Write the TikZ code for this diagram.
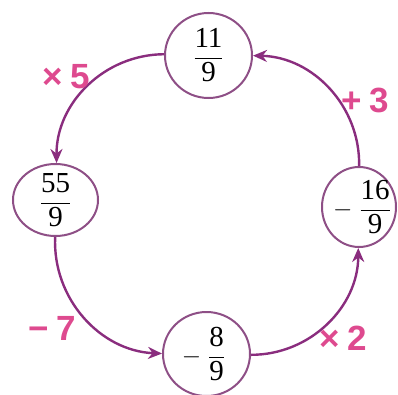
\documentclass[tikz,border=0pt]{standalone}
\usepackage{amsmath}
\usepackage{fontspec}
\setmainfont{Liberation Serif}
\newfontfamily\opfont{Liberation Sans}
\usetikzlibrary{arrows.meta,shapes.geometric}
\definecolor{ringPurple}{HTML}{8E4F86}
\definecolor{arcPurple}{HTML}{8A2D7E}
\definecolor{opPink}{HTML}{DE4A8F}
\newcommand{\fr}[2]{$\dfrac{\text{#1}}{\text{#2}}$}
\newcommand{\negfr}[2]{$-\;\dfrac{\text{#1}}{\text{#2}}$}

\begin{document}
\begin{tikzpicture}[x=1pt, y=1pt,
  numring/.style={ellipse, draw=ringPurple, line width=2pt, inner sep=0pt},
  numtext/.style={font=\fontsize{29}{29}\selectfont},
  steparrow/.style={draw=arcPurple, line width=2.4pt, -{Stealth[length=14pt,width=12pt]}},
  oplabel/.style={font=\opfont\bfseries\fontsize{35}{35}\selectfont, color=opPink}]
  \useasboundingbox (0,0) rectangle (398,394);

  % Number rings
  \node[numring, minimum width=87pt, minimum height=85pt, label={[numtext]center:\fr{11}{9}}] (top) at (208.5,338.5) {};
  \node[numring, minimum width=85pt, minimum height=72pt, label={[numtext]center:\fr{55}{9}}] (left) at (55.5,194) {};
  \node[numring, minimum width=74pt, minimum height=80pt, label={[numtext, xshift=3pt]center:\negfr{16}{9}}] (right) at (359,187) {};
  \node[numring, minimum width=87pt, minimum height=84pt, label={[numtext, xshift=-3pt]center:\negfr{8}{9}}] (bottom) at (206.5,40) {};

  % Steps
  \draw[steparrow] (top) to[bend right=45] (left);
  \draw[steparrow] (left) to[bend right=45] (bottom);
  \draw[steparrow] (bottom) to[bend right=45] (right);
  \draw[steparrow] (right) to[bend right=45] (top);

  % Operations
  \node[oplabel] (times5) at (66,317) {×\hspace{8pt}5};
  \node[oplabel] (plus3) at (365,294) {+\hspace{8pt}3};
  \node[oplabel] (minus7) at (52,66) {−\hspace{8pt}7};
  \node[oplabel] (times2) at (343,56) {×\hspace{8pt}2};
\end{tikzpicture}
\end{document}
